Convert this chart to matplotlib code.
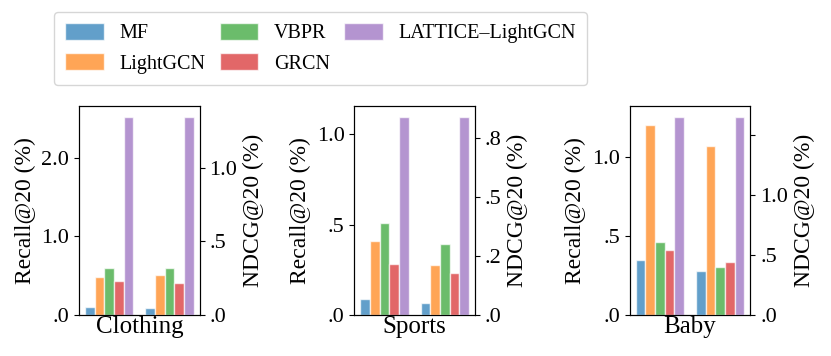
import matplotlib.pyplot as plt
import numpy as np

plt.rcParams['font.family'] = ['Liberation Serif', 'DejaVu Serif']
plt.rcParams['font.size'] = 16

datasets = ["Clothing", "Sports", "Baby"]
models = ["MF", "LightGCN", "VBPR", "GRCN", "LATTICE\u2013LightGCN"]
colors = ["tab:blue", "tab:orange", "tab:green", "tab:red", "tab:purple"]

# Recall@20 (%) per dataset, one value per model
recall_clothing = [0.10, 0.48, 0.60, 0.43, 2.52]
recall_sports = [0.09, 0.41, 0.51, 0.28, 1.094]
recall_baby = [0.35, 1.20, 0.46, 0.41, 1.25]

# NDCG@20 (%) per dataset
ndcg_clothing = [0.047, 0.27, 0.318, 0.219, 1.345]
ndcg_sports = [0.05, 0.212, 0.30, 0.176, 0.837]
ndcg_baby = [0.362, 1.403, 0.40, 0.442, 1.646]

recall_ticks = [[0, 1.0, 2.0], [0, 0.5, 1.0], [0, 0.5, 1.0]]
recall_labels = [['.0', '1.0', '2.0'], ['.0', '.5', '1.0'], ['.0', '.5', '1.0']]
ndcg_ticks = [[0, 0.5, 1.0], [0, 0.25, 0.5, 0.75], [0, 0.5, 1.0, 1.5]]
ndcg_labels = [['.0', '.5', '1.0'], ['.0', '.2', '.5', '.8'], ['.0', '.5', '1.0', '']]

recalls = [recall_clothing, recall_sports, recall_baby]
ndcgs = [ndcg_clothing, ndcg_sports, ndcg_baby]

fig, axes = plt.subplots(1, 3, figsize=(8.31, 3.56), dpi=100)
fig.subplots_adjust(left=0.095, right=0.903, bottom=0.115, top=0.702, wspace=1.28)

width = 0.16
offsets = (np.arange(5) - 2) * width

for i, ax in enumerate(axes):
    ax2 = ax.twinx()
    handles = []
    for j in range(5):
        h = ax.bar(0 + offsets[j], recalls[i][j], width, color=colors[j], alpha=0.7,
                   edgecolor='white', linewidth=1, label=models[j])
        ax2.bar(1 + offsets[j], ndcgs[i][j], width, color=colors[j], alpha=0.7,
                edgecolor='white', linewidth=1)
        handles.append(h)
    ax.set_xlim(-0.5, 1.5)
    ax.set_ylim(0, max(recalls[i]) * 1.055)
    ax2.set_ylim(0, max(ndcgs[i]) * 1.055)
    ax.set_yticks(recall_ticks[i])
    ax.set_yticklabels(recall_labels[i])
    ax2.set_yticks(ndcg_ticks[i])
    ax2.set_yticklabels(ndcg_labels[i])
    ax.set_xticks([])
    ax.set_xlabel(datasets[i], labelpad=1, fontsize=18)
    ax.set_ylabel("Recall@20 (%)", fontsize=17)
    ax2.set_ylabel("NDCG@20 (%)", fontsize=17)
    if i == 0:
        leg_handles = handles

fig.legend(leg_handles, models, ncol=3, loc='upper center', bbox_to_anchor=(0.386, 0.995),
           handlelength=1.9, handleheight=0.9, handletextpad=0.8, columnspacing=0.7,
           labelspacing=0.5, borderpad=0.55, fontsize=14.5)

fig.savefig("out.png", dpi=100)
